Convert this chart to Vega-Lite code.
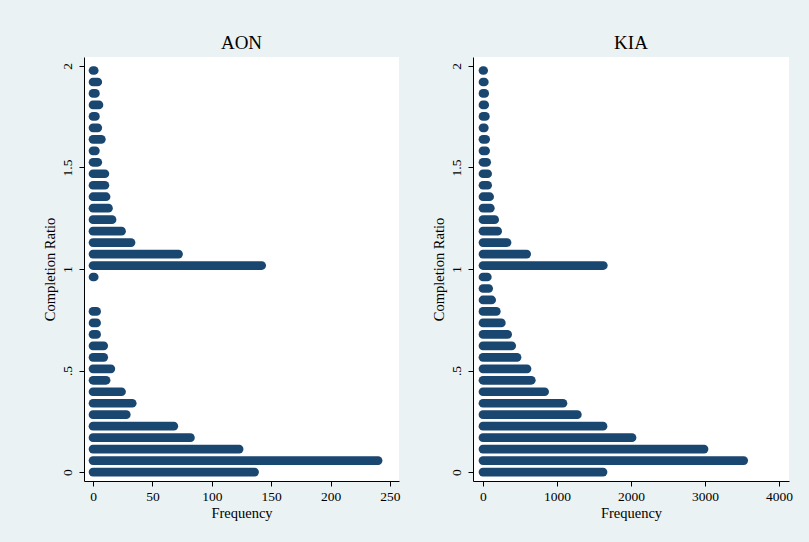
{
  "$schema": "https://vega.github.io/schema/vega-lite/v6.json",
  "background": "#eaf2f3",
  "padding": {"left": 42, "top": 34, "right": 17, "bottom": 24},
  "autosize": {"type": "pad"},
  "spacing": 30,
  "config": {
    "font": "Liberation Serif",
    "view": {"stroke": null, "fill": "white"},
    "axis": {
      "grid": false,
      "domainColor": "#000000",
      "domainWidth": 1,
      "tickColor": "#000000",
      "tickSize": 5,
      "labelFont": "Liberation Serif",
      "labelFontSize": 13.5,
      "labelColor": "#000000",
      "labelPadding": 3,
      "titleFont": "Liberation Serif",
      "titleFontSize": 14.5,
      "titleFontWeight": "normal",
      "titleColor": "#000000"
    },
    "axisY": {"labelPadding": 5, "titlePadding": 3},
    "title": {"font": "Liberation Serif", "fontSize": 19, "fontWeight": "normal", "color": "#000000", "offset": 4}
  },
  "datasets": {
    "h": [
      {"panel": "AON", "ratio": 0, "freq": 136},
      {"panel": "AON", "ratio": 0.0565, "freq": 240},
      {"panel": "AON", "ratio": 0.113, "freq": 123},
      {"panel": "AON", "ratio": 0.1695, "freq": 82},
      {"panel": "AON", "ratio": 0.226, "freq": 68},
      {"panel": "AON", "ratio": 0.2825, "freq": 28},
      {"panel": "AON", "ratio": 0.339, "freq": 33},
      {"panel": "AON", "ratio": 0.3955, "freq": 24},
      {"panel": "AON", "ratio": 0.452, "freq": 11},
      {"panel": "AON", "ratio": 0.5085, "freq": 15},
      {"panel": "AON", "ratio": 0.565, "freq": 9},
      {"panel": "AON", "ratio": 0.6215, "freq": 9},
      {"panel": "AON", "ratio": 0.678, "freq": 3},
      {"panel": "AON", "ratio": 0.7345, "freq": 3},
      {"panel": "AON", "ratio": 0.791, "freq": 3},
      {"panel": "AON", "ratio": 0.9605, "freq": 1},
      {"panel": "AON", "ratio": 1.017, "freq": 142},
      {"panel": "AON", "ratio": 1.0735, "freq": 72},
      {"panel": "AON", "ratio": 1.13, "freq": 32},
      {"panel": "AON", "ratio": 1.1865, "freq": 24},
      {"panel": "AON", "ratio": 1.243, "freq": 16},
      {"panel": "AON", "ratio": 1.2995, "freq": 13},
      {"panel": "AON", "ratio": 1.356, "freq": 11},
      {"panel": "AON", "ratio": 1.4125, "freq": 10},
      {"panel": "AON", "ratio": 1.469, "freq": 10},
      {"panel": "AON", "ratio": 1.5255, "freq": 4},
      {"panel": "AON", "ratio": 1.582, "freq": 2},
      {"panel": "AON", "ratio": 1.6385, "freq": 7},
      {"panel": "AON", "ratio": 1.695, "freq": 4},
      {"panel": "AON", "ratio": 1.7515, "freq": 2},
      {"panel": "AON", "ratio": 1.808, "freq": 5},
      {"panel": "AON", "ratio": 1.8645, "freq": 2},
      {"panel": "AON", "ratio": 1.921, "freq": 4},
      {"panel": "AON", "ratio": 1.9775, "freq": 1},
      {"panel": "KIA", "ratio": 0, "freq": 1622},
      {"panel": "KIA", "ratio": 0.0565, "freq": 3523},
      {"panel": "KIA", "ratio": 0.113, "freq": 2987},
      {"panel": "KIA", "ratio": 0.1695, "freq": 2014},
      {"panel": "KIA", "ratio": 0.226, "freq": 1622},
      {"panel": "KIA", "ratio": 0.2825, "freq": 1275},
      {"panel": "KIA", "ratio": 0.339, "freq": 1081},
      {"panel": "KIA", "ratio": 0.3955, "freq": 833},
      {"panel": "KIA", "ratio": 0.452, "freq": 653},
      {"panel": "KIA", "ratio": 0.5085, "freq": 595},
      {"panel": "KIA", "ratio": 0.565, "freq": 460},
      {"panel": "KIA", "ratio": 0.6215, "freq": 388},
      {"panel": "KIA", "ratio": 0.678, "freq": 333},
      {"panel": "KIA", "ratio": 0.7345, "freq": 248},
      {"panel": "KIA", "ratio": 0.791, "freq": 180},
      {"panel": "KIA", "ratio": 0.8475, "freq": 117},
      {"panel": "KIA", "ratio": 0.904, "freq": 77},
      {"panel": "KIA", "ratio": 0.9605, "freq": 59},
      {"panel": "KIA", "ratio": 1.017, "freq": 1626},
      {"panel": "KIA", "ratio": 1.0735, "freq": 590},
      {"panel": "KIA", "ratio": 1.13, "freq": 325},
      {"panel": "KIA", "ratio": 1.1865, "freq": 198},
      {"panel": "KIA", "ratio": 1.243, "freq": 158},
      {"panel": "KIA", "ratio": 1.2995, "freq": 99},
      {"panel": "KIA", "ratio": 1.356, "freq": 90},
      {"panel": "KIA", "ratio": 1.4125, "freq": 63},
      {"panel": "KIA", "ratio": 1.469, "freq": 63},
      {"panel": "KIA", "ratio": 1.5255, "freq": 50},
      {"panel": "KIA", "ratio": 1.582, "freq": 36},
      {"panel": "KIA", "ratio": 1.6385, "freq": 36},
      {"panel": "KIA", "ratio": 1.695, "freq": 18},
      {"panel": "KIA", "ratio": 1.7515, "freq": 32},
      {"panel": "KIA", "ratio": 1.808, "freq": 23},
      {"panel": "KIA", "ratio": 1.8645, "freq": 23},
      {"panel": "KIA", "ratio": 1.921, "freq": 18},
      {"panel": "KIA", "ratio": 1.9775, "freq": 9}
    ]
  },
  "hconcat": [
    {
      "title": "AON",
      "width": 315,
      "height": 424,
      "data": {"name": "h"},
      "transform": [{"filter": "datum.panel == 'AON'"}],
      "mark": {"type": "rule", "strokeWidth": 8.7, "strokeCap": "round", "color": "#1a476f"},
      "encoding": {
        "y": {
          "field": "ratio", "type": "quantitative",
          "scale": {"domain": [-0.044, 2.044], "nice": false, "zero": false},
          "axis": {"values": [0, 0.5, 1, 1.5, 2], "title": "Completion Ratio", "labelAngle": 270, "labelExpr": "datum.value == 0.5 ? '.5' : '' + datum.value"}
        },
        "x": {
          "field": "freq", "type": "quantitative",
          "scale": {"domain": [-7.6, 257.6], "nice": false, "zero": false},
          "axis": {"values": [0, 50, 100, 150, 200, 250], "format": "d", "title": "Frequency"}
        },
        "x2": {"datum": 0}
      }
    },
    {
      "title": "KIA",
      "width": 316,
      "height": 424,
      "data": {"name": "h"},
      "transform": [{"filter": "datum.panel == 'KIA'"}],
      "mark": {"type": "rule", "strokeWidth": 8.7, "strokeCap": "round", "color": "#1a476f"},
      "encoding": {
        "y": {
          "field": "ratio", "type": "quantitative",
          "scale": {"domain": [-0.044, 2.044], "nice": false, "zero": false},
          "axis": {"values": [0, 0.5, 1, 1.5, 2], "title": "Completion Ratio", "labelAngle": 270, "labelExpr": "datum.value == 0.5 ? '.5' : '' + datum.value"}
        },
        "x": {
          "field": "freq", "type": "quantitative",
          "scale": {"domain": [-135, 4135], "nice": false, "zero": false},
          "axis": {"values": [0, 1000, 2000, 3000, 4000], "format": "d", "title": "Frequency"}
        },
        "x2": {"datum": 0}
      }
    }
  ]
}
